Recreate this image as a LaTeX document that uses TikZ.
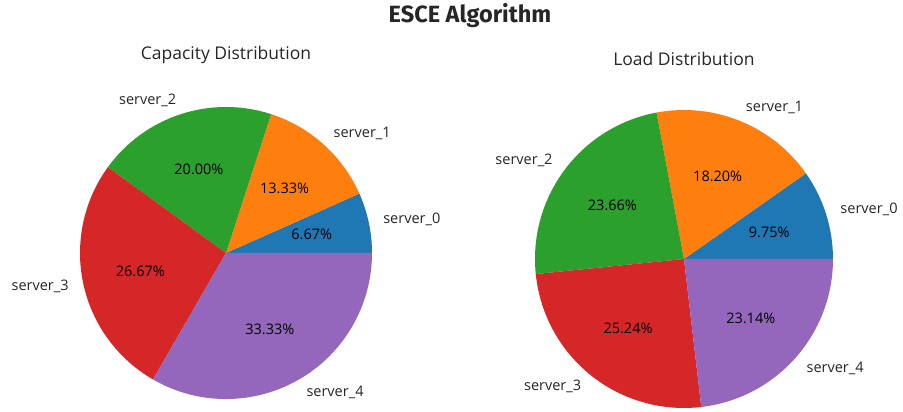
\documentclass[tikz,border=0pt]{standalone}
\usepackage{fontspec}
\setmainfont{Open Sans}
\newfontfamily\headfont{Fira Sans}
\definecolor{tabblue}{HTML}{1F77B4}
\definecolor{taborange}{HTML}{FF7F0E}
\definecolor{tabgreen}{HTML}{2CA02C}
\definecolor{tabred}{HTML}{D62728}
\definecolor{tabpurple}{HTML}{9467BD}
\begin{document}
\begin{tikzpicture}[x=1pt,y=1pt,
  suptitle/.style={font=\headfont\bfseries\fontsize{23.5}{27}\selectfont, text=black!85, inner sep=0pt},
  subtitle/.style={font=\fontsize{17.5}{20}\selectfont, text=black!85, inner sep=0pt},
  slicelabel/.style={font=\fontsize{14.5}{17}\selectfont, text=black!85, inner sep=0pt},
  pctlabel/.style={font=\fontsize{14.5}{17}\selectfont, text=black, inner sep=0pt}]
\useasboundingbox (0,0) rectangle (903,412);
\fill[white] (0,0) rectangle (903,412);

% figure and axes titles
\node[suptitle] (title) at (470,396) {ESCE Algorithm};
\node[subtitle] (captitle) at (226,357) {Capacity Distribution};
\node[subtitle] (loadtitle) at (684,353) {Load Distribution};

% capacity pie (start angle 0, counter-clockwise)
\begin{scope}[shift={(226,159)}]
  \foreach \a/\b/\c/\anc/\n/\p [count=\i] in {
      0/24/tabblue/west/server\_0/6.67\%,
      24/72/taborange/west/server\_1/13.33\%,
      72/144/tabgreen/east/server\_2/20.00\%,
      144/240/tabred/east/server\_3/26.67\%,
      240/360/tabpurple/west/server\_4/33.33\%}
  {
    \fill[\c] (0,0) -- (\a:146) arc[start angle=\a, end angle=\b, radius=146] -- cycle;
    \pgfmathsetmacro\m{(\a+\b)/2}
    \node[slicelabel, anchor=\anc] (cap-name-\i) at (\m:160.6) {\n};
    \node[pctlabel] (cap-pct-\i) at (\m:87.6) {\p};
  }
\end{scope}

% load pie
\begin{scope}[shift={(684,153)}]
  \foreach \a/\b/\c/\anc/\n/\p [count=\i] in {
      0/35.1/tabblue/west/server\_0/9.75\%,
      35.1/100.62/taborange/west/server\_1/18.20\%,
      100.62/185.8/tabgreen/east/server\_2/23.66\%,
      185.8/276.66/tabred/east/server\_3/25.24\%,
      276.66/360/tabpurple/west/server\_4/23.14\%}
  {
    \fill[\c] (0,0) -- (\a:149) arc[start angle=\a, end angle=\b, radius=149] -- cycle;
    \pgfmathsetmacro\m{(\a+\b)/2}
    \node[slicelabel, anchor=\anc] (load-name-\i) at (\m:163.9) {\n};
    \node[pctlabel] (load-pct-\i) at (\m:89.4) {\p};
  }
\end{scope}
\end{tikzpicture}
\end{document}
